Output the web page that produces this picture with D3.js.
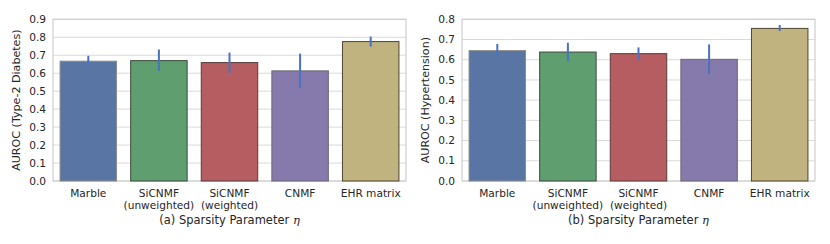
<!DOCTYPE html>
<html lang="en">
<head>
  <meta charset="UTF-8">
  <title>AUROC by method</title>
  <script src="https://d3js.org/d3.v7.min.js"></script>
  <style>
    body { margin: 0; background: #fff; }
    svg { display: block; font-family: "DejaVu Sans", sans-serif; }
    .tick-label { font-size: 10.6px; fill: #262626; }
    .axis-title { font-size: 11.1px; fill: #262626; }
    .caption { font-size: 11.5px; fill: #262626; }
  </style>
</head>
<body>
  <script>
    // methods along the x axis
    const methods = ["Marble", "SiCNMF\n(unweighted)", "SiCNMF\n(weighted)", "CNMF", "EHR matrix"];
    const barColors = ["#5875a4", "#5f9e6e", "#b55d60", "#857aab", "#c1b37f"];
    const edgeColors = ["#8c8c8c", "#3d4a40", "#5a3b3c", "#6c6874", "#4e4732"];

    // (a) Type-2 Diabetes
    const t2dMean = [0.667, 0.670, 0.659, 0.613, 0.776];
    const t2dLow  = [0.643, 0.613, 0.602, 0.517, 0.748];
    const t2dHigh = [0.697, 0.732, 0.715, 0.709, 0.804];
    const t2dTicks = [0, 0.1, 0.2, 0.3, 0.4, 0.5, 0.6, 0.7, 0.8, 0.9];

    // (b) Hypertension
    const htnMean = [0.645, 0.638, 0.630, 0.602, 0.755];
    const htnLow  = [0.618, 0.594, 0.597, 0.529, 0.742];
    const htnHigh = [0.678, 0.684, 0.661, 0.676, 0.772];
    const htnTicks = [0, 0.1, 0.2, 0.3, 0.4, 0.5, 0.6, 0.7, 0.8];

    const svg = d3.select("body").append("svg")
      .attr("width", 830)
      .attr("height", 244);

    function panel(opts) {
      const { x0, x1, top, bottom, yMax, ticks, mean, low, high, yTitle, caption } = opts;
      const g = svg.append("g");

      const x = d3.scaleBand()
        .domain(methods)
        .range([x0, x1])
        .paddingInner(0.2)
        .paddingOuter(0.1);

      const y = d3.scaleLinear()
        .domain([0, yMax])
        .range([bottom, top]);

      // grid
      g.selectAll("line.grid")
        .data(ticks)
        .join("line")
        .attr("x1", x0).attr("x2", x1)
        .attr("y1", d => y(d)).attr("y2", d => y(d))
        .attr("stroke", "#dadada")
        .attr("stroke-width", 1);

      // frame
      g.append("rect")
        .attr("x", x0).attr("y", top)
        .attr("width", x1 - x0).attr("height", bottom - top)
        .attr("fill", "none")
        .attr("stroke", "#cfcfcf")
        .attr("stroke-width", 1.2);

      // y tick labels
      g.selectAll("text.ytick")
        .data(ticks)
        .join("text")
        .attr("class", "tick-label")
        .attr("x", x0 - 7)
        .attr("y", d => y(d))
        .attr("dy", "0.35em")
        .attr("text-anchor", "end")
        .text(d => d.toFixed(1));

      // bars
      g.selectAll("rect.bar")
        .data(methods)
        .join("rect")
        .attr("x", d => x(d))
        .attr("width", x.bandwidth())
        .attr("y", (d, i) => y(mean[i]))
        .attr("height", (d, i) => y(0) - y(mean[i]))
        .attr("fill", (d, i) => barColors[i])
        .attr("stroke", (d, i) => edgeColors[i])
        .attr("stroke-width", 1);

      // error bars
      g.selectAll("line.err")
        .data(methods)
        .join("line")
        .attr("x1", d => x(d) + x.bandwidth() / 2)
        .attr("x2", d => x(d) + x.bandwidth() / 2)
        .attr("y1", (d, i) => y(low[i]))
        .attr("y2", (d, i) => y(high[i]))
        .attr("stroke", "#4a72c0")
        .attr("stroke-width", 2);

      // x tick labels
      const xl = g.selectAll("text.xtick")
        .data(methods)
        .join("text")
        .attr("class", "tick-label")
        .attr("text-anchor", "middle")
        .attr("x", d => x(d) + x.bandwidth() / 2)
        .attr("y", bottom + 16);
      xl.selectAll("tspan")
        .data(d => d.split("\n").map(s => ({ s, x: x(d) + x.bandwidth() / 2 })))
        .join("tspan")
        .attr("x", d => d.x)
        .attr("dy", (d, i) => i === 0 ? 0 : 12)
        .text(d => d.s);

      // y title
      g.append("text")
        .attr("class", "axis-title")
        .attr("text-anchor", "middle")
        .attr("transform", `translate(${x0 - 33},${(top + bottom) / 2}) rotate(-90)`)
        .text(yTitle);

      // caption
      const cap = g.append("text")
        .attr("class", "caption")
        .attr("text-anchor", "middle")
        .attr("x", (x0 + x1) / 2)
        .attr("y", bottom + 43);
      cap.append("tspan").text(caption + " ");
      cap.append("tspan")
        .attr("font-family", "DejaVu Serif, serif")
        .attr("font-style", "italic")
        .text("η");
    }

    panel({
      x0: 53, x1: 406, top: 19.3, bottom: 181, yMax: 0.9, ticks: t2dTicks,
      mean: t2dMean, low: t2dLow, high: t2dHigh,
      yTitle: "AUROC (Type-2 Diabetes)", caption: "(a) Sparsity Parameter"
    });

    panel({
      x0: 462, x1: 815, top: 19.3, bottom: 181, yMax: 0.8, ticks: htnTicks,
      mean: htnMean, low: htnLow, high: htnHigh,
      yTitle: "AUROC (Hypertension)", caption: "(b) Sparsity Parameter"
    });
  </script>
</body>
</html>
